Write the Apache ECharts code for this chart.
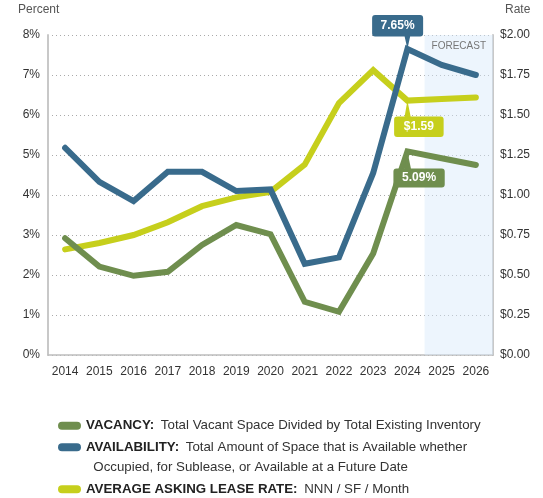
<!DOCTYPE html>
<html>
<head>
<meta charset="utf-8">
<script src="https://cdn.jsdelivr.net/npm/echarts@6/dist/echarts.min.js"></script>
<style>
  html, body { margin: 0; padding: 0; background: #fff; }
  #main { width: 543px; height: 498px; }
</style>
</head>
<body>
<div id="main"></div>
<script>
// values
const years = ["2014", "2015", "2016", "2017", "2018", "2019", "2020", "2021", "2022", "2023", "2024", "2025", "2026"];
const vacancy = [2.92, 2.21, 1.98, 2.08, 2.75, 3.25, 3.02, 1.33, 1.08, 2.54, 5.09, 4.92, 4.75];
const availability = [5.18, 4.33, 3.85, 4.58, 4.58, 4.1, 4.14, 2.28, 2.44, 4.55, 7.65, 7.25, 7.0];
const leaseRate = [0.66, 0.7, 0.75, 0.83, 0.93, 0.985, 1.02, 1.19, 1.575, 1.78, 1.59, 1.6, 1.61];
const forecastYears = ["2025", "2026"];
const pctTicks = [0, 1, 2, 3, 4, 5, 6, 7, 8];
const rateTicks = [0, 0.25, 0.5, 0.75, 1, 1.25, 1.5, 1.75, 2];

const FONT = "'Liberation Sans', Arial, sans-serif";
const GREEN = "#6f8e4e";
const BLUE = "#396b8c";
const YELLOW = "#c6cf1c";

const legendText = {
  VACANCY: "{b|VACANCY:}  {n|Total Vacant Space Divided by Total Existing Inventory}",
  AVAILABILITY: "{b|AVAILABILITY:}  {n|Total Amount of Space that is Available whether}",
  "AVERAGE ASKING LEASE RATE": "{b|AVERAGE ASKING LEASE RATE:}  {n|NNN / SF / Month}"
};

// callout shapes (box + pointer), drawn in pixel units
const calloutDown = "path://M3,0H48Q51,0,51,3V18.5Q51,21.5,48,21.5H38L35.3,34L32.5,21.5H3Q0,21.5,0,18.5V3Q0,0,3,0Z";
const calloutUpY = "path://M13.3,0L16.5,16H46.5Q49.5,16,49.5,19V33.5Q49.5,36.5,46.5,36.5H3Q0,36.5,0,33.5V19Q0,16,3,16H10.5Z";
const calloutUpG = "path://M14,0L17.5,17H48.3Q51.3,17,51.3,20V33Q51.3,36,48.3,36H3Q0,36,0,33V20Q0,17,3,17H11Z";

const calloutLabel = {
  show: true,
  position: "inside",
  color: "#fff",
  fontFamily: FONT,
  fontWeight: "bold",
  fontSize: 12
};

function makeLegend(name, top) {
  return {
    data: [name],
    left: 58,
    top: top,
    padding: 0,
    icon: "path://M4,0H19A4,4,0,0,1,19,8H4A4,4,0,0,1,4,0Z",
    itemWidth: 23,
    itemHeight: 8,
    itemGap: 12.5,
    selectedMode: false,
    formatter: n => legendText[n],
    textStyle: {
      lineHeight: 16,
      rich: {
        b: { fontFamily: FONT, fontWeight: "bold", fontSize: 13.3, color: "#222", lineHeight: 16 },
        n: { fontFamily: FONT, fontSize: 13.3, color: "#333", lineHeight: 16 }
      }
    }
  };
}

const forecastStart = years.indexOf(forecastYears[0]) - 0.5;
const forecastEnd = years.indexOf(forecastYears[forecastYears.length - 1]) + 0.5;

const chart = echarts.init(document.getElementById("main"), null, { renderer: "canvas" });

const option = {
  animation: false,
  backgroundColor: "#fff",
  grid: { left: 48, right: 50, top: 35, bottom: 143, containLabel: false },
  legend: [
    makeLegend("VACANCY", 417.7),
    makeLegend("AVAILABILITY", 439.3),
    makeLegend("AVERAGE ASKING LEASE RATE", 481.3)
  ],
  graphic: [
    { type: "text", left: 18, top: 4, style: { text: "Percent", fontFamily: FONT, fontSize: 12, fill: "#555" } },
    { type: "text", left: 505, top: 4, style: { text: "Rate", fontFamily: FONT, fontSize: 12, fill: "#555" } },
    { type: "text", left: 93.3, top: 460.8, style: { text: "Occupied, for Sublease, or Available at a Future Date", fontFamily: FONT, fontSize: 13.3, fill: "#333" } }
  ],
  xAxis: [
    {
      type: "category",
      data: years,
      boundaryGap: true,
      axisTick: { show: false },
      axisLine: { lineStyle: { color: "#bdbdbd", width: 1.5 } },
      axisLabel: { interval: 0, margin: 11, color: "#333", fontFamily: FONT, fontSize: 12 }
    },
    {
      // hidden helper axis aligned with the category slots, used for the forecast band
      type: "value",
      min: -0.5,
      max: years.length - 0.5,
      show: false
    }
  ],
  yAxis: [
    {
      type: "value",
      min: pctTicks[0],
      max: pctTicks[pctTicks.length - 1],
      interval: 1,
      axisLine: { show: true, onZero: false, lineStyle: { color: "#c8c8c8", width: 2 } },
      axisTick: { show: false },
      axisLabel: { margin: 8, color: "#333", fontFamily: FONT, fontSize: 12, formatter: "{value}%" },
      splitLine: { show: true, lineStyle: { color: "#aaa", type: [1, 3], width: 1 } }
    },
    {
      type: "value",
      min: rateTicks[0],
      max: rateTicks[rateTicks.length - 1],
      interval: 0.25,
      axisLine: { show: true, onZero: false, lineStyle: { color: "#c8c8c8", width: 2 } },
      axisTick: { show: false },
      axisLabel: { margin: 7, color: "#333", fontFamily: FONT, fontSize: 12, formatter: v => "$" + v.toFixed(2) },
      splitLine: { show: false }
    }
  ],
  series: [
    {
      name: "forecast",
      type: "line",
      xAxisIndex: 1,
      data: [],
      z: 1,
      markArea: {
        silent: true,
        itemStyle: { color: "rgba(214,233,250,0.45)" },
        label: { show: true, position: "insideTop", distance: 6, color: "#777", fontFamily: FONT, fontSize: 10 },
        data: [[{ xAxis: forecastStart, name: "FORECAST" }, { xAxis: forecastEnd }]]
      }
    },
    {
      name: "VACANCY",
      type: "line",
      data: vacancy,
      color: GREEN,
      showSymbol: false,
      z: 3,
      lineStyle: { width: 6, cap: "round", join: "miter" },
      markPoint: {
        silent: true,
        data: [{
          coord: [years[10], vacancy[10]],
          value: vacancy[10],
          symbol: calloutUpG,
          symbolSize: [51.3, 36],
          symbolOffset: [11.65, 18],
          itemStyle: { color: GREEN },
          label: Object.assign({}, calloutLabel, { offset: [0, 8.5], formatter: p => p.value.toFixed(2) + "%" })
        }]
      }
    },
    {
      name: "AVAILABILITY",
      type: "line",
      data: availability,
      color: BLUE,
      showSymbol: false,
      z: 3,
      lineStyle: { width: 6, cap: "round", join: "miter" },
      markPoint: {
        silent: true,
        data: [{
          coord: [years[10], availability[10]],
          value: availability[10],
          symbol: calloutDown,
          symbolSize: [51, 34],
          symbolOffset: [-9.8, -17],
          itemStyle: { color: BLUE },
          label: Object.assign({}, calloutLabel, { offset: [0, -6.25], formatter: p => p.value.toFixed(2) + "%" })
        }]
      }
    },
    {
      name: "AVERAGE ASKING LEASE RATE",
      type: "line",
      yAxisIndex: 1,
      data: leaseRate,
      color: YELLOW,
      showSymbol: false,
      z: 2,
      lineStyle: { width: 6, cap: "round", join: "miter" },
      markPoint: {
        silent: true,
        data: [{
          coord: [years[10], leaseRate[10]],
          value: leaseRate[10],
          symbol: calloutUpY,
          symbolSize: [49.5, 36.5],
          symbolOffset: [11.45, 18.25],
          itemStyle: { color: YELLOW },
          label: Object.assign({}, calloutLabel, { offset: [0, 8], formatter: p => "$" + p.value.toFixed(2) })
        }]
      }
    }
  ]
};

chart.setOption(option);
</script>
</body>
</html>
